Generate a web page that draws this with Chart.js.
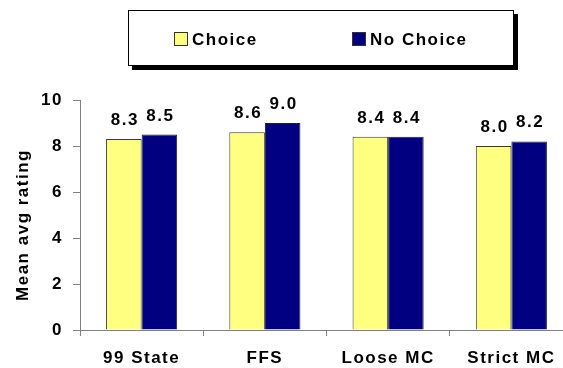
<!DOCTYPE html>
<html>
<head>
<meta charset="utf-8">
<script src="https://cdn.jsdelivr.net/npm/chart.js@4"></script>
<style>
  html, body { margin: 0; padding: 0; background: #fff; overflow: hidden; }
  #wrap { position: relative; width: 575px; height: 368px; }
</style>
</head>
<body>
<div id="wrap"><canvas id="c"></canvas></div>
<script>
// Ratings by plan type
const categories = ['99 State', 'FFS', 'Loose MC', 'Strict MC'];
const choiceValues = [8.3, 8.6, 8.4, 8.0];
const noChoiceValues = [8.5, 9.0, 8.4, 8.2];
const seriesNames = ['Choice', 'No Choice'];
const yTicks = [0, 2, 4, 6, 8, 10];
const yTitle = 'Mean avg rating';

const FONT = "'Liberation Sans', Arial, sans-serif";
const SPACING = '1.5px';

// Wider letter spacing for all canvas text
const spacingPlugin = {
  id: 'spacing',
  beforeLayout(chart) { chart.ctx.letterSpacing = SPACING; },
  beforeDraw(chart) { chart.ctx.letterSpacing = SPACING; }
};

// Value printed above each bar
const valueLabels = {
  id: 'valueLabels',
  afterDatasetsDraw(chart) {
    const ctx = chart.ctx;
    ctx.save();
    ctx.letterSpacing = SPACING;
    ctx.font = 'bold 17px ' + FONT;
    ctx.fillStyle = '#000';
    ctx.textAlign = 'center';
    ctx.textBaseline = 'alphabetic';
    chart.data.datasets.forEach((ds, di) => {
      chart.getDatasetMeta(di).data.forEach((bar, i) => {
        ctx.fillText(ds.data[i].toFixed(1), bar.x + 1, bar.y - 14);
      });
    });
    ctx.restore();
  }
};

// Framed legend with drop shadow
const framedLegend = {
  id: 'framedLegend',
  afterDraw(chart, args, opts) {
    const ctx = chart.ctx;
    const b = opts.box;
    ctx.save();
    ctx.fillStyle = '#000';
    ctx.fillRect(b.x + 4, b.y + 4, b.w, b.h);
    ctx.fillStyle = '#fff';
    ctx.fillRect(b.x, b.y, b.w, b.h);
    ctx.strokeStyle = '#000';
    ctx.lineWidth = 1;
    ctx.strokeRect(b.x + 0.5, b.y + 0.5, b.w - 1, b.h - 1);
    ctx.letterSpacing = SPACING;
    ctx.font = 'bold 17px ' + FONT;
    ctx.textBaseline = 'middle';
    ctx.textAlign = 'left';
    chart.data.datasets.forEach((ds, i) => {
      const x = opts.itemX[i];
      const y = opts.itemY;
      ctx.fillStyle = ds.backgroundColor;
      ctx.fillRect(x, y - 7, 14, 14);
      ctx.strokeStyle = '#333';
      ctx.strokeRect(x + 0.5, y - 6.5, 13, 13);
      ctx.fillStyle = '#000';
      ctx.fillText(ds.label, x + 18, y + 1);
    });
    ctx.restore();
  }
};

// Rotated y-axis title
const yAxisTitle = {
  id: 'yAxisTitle',
  afterDraw(chart, args, opts) {
    const ctx = chart.ctx;
    ctx.save();
    ctx.letterSpacing = SPACING;
    ctx.font = 'bold 17px ' + FONT;
    ctx.fillStyle = '#000';
    ctx.textAlign = 'center';
    ctx.textBaseline = 'middle';
    ctx.translate(opts.x, opts.y);
    ctx.rotate(-Math.PI / 2);
    ctx.fillText(opts.text, 0, 0);
    ctx.restore();
  }
};

new Chart(document.getElementById('c'), {
  type: 'bar',
  data: {
    labels: categories,
    datasets: [
      { label: seriesNames[0], data: choiceValues, backgroundColor: '#FFFF80',
        borderColor: '#3a3a3a', borderWidth: 1,
        categoryPercentage: 0.577, barPercentage: 1.0 },
      { label: seriesNames[1], data: noChoiceValues, backgroundColor: '#000080',
        borderColor: '#222', borderWidth: 1,
        categoryPercentage: 0.577, barPercentage: 1.0 }
    ]
  },
  options: {
    responsive: true,
    maintainAspectRatio: false,
    animation: false,
    devicePixelRatio: 1,
    layout: { padding: { top: 100, left: 0, right: 2, bottom: 0 } },
    plugins: {
      legend: { display: false },
      tooltip: { enabled: false },
      framedLegend: { box: { x: 128, y: 10, w: 386, h: 56 }, itemX: [174, 352], itemY: 39 },
      yAxisTitle: { text: yTitle, x: 23, y: 225 }
    },
    scales: {
      x: {
        offset: true,
        grid: { offset: true, drawOnChartArea: false, drawTicks: true, tickLength: 6, color: '#808080' },
        border: { display: true, color: '#808080', width: 1 },
        ticks: { color: '#000', font: { family: FONT, size: 17, weight: 'bold' }, padding: 12 },
        afterFit(s) { s.height = 38; }
      },
      y: {
        min: 0, max: 10,
        afterBuildTicks(s) { s.ticks = yTicks.map(v => ({ value: v })); },
        grid: { drawOnChartArea: false, drawTicks: true, tickLength: 7, color: '#808080' },
        border: { display: true, color: '#808080', width: 1 },
        ticks: { color: '#000', font: { family: FONT, size: 17, weight: 'bold' }, padding: 10 },
        afterFit(s) { s.width = 80; }
      }
    }
  },
  plugins: [spacingPlugin, valueLabels, framedLegend, yAxisTitle]
});
</script>
</body>
</html>
